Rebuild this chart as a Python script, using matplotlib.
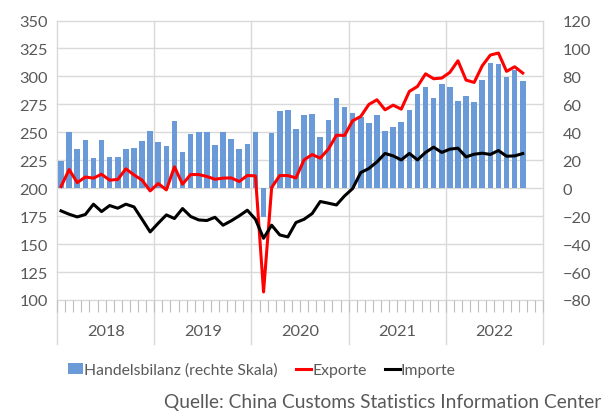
import numpy as np
import matplotlib
matplotlib.use("Agg")
from matplotlib import pyplot as plt
from matplotlib.patches import Patch
from matplotlib.lines import Line2D

# monthly values, Jan 2018 .. Oct 2022 (bn USD)
years = ["2018", "2019", "2020", "2021", "2022"]

balance = [
    19.6, 40.3, 27.9, 34.4, 21.7, 34.4, 22.2, 22.4, 27.7, 28.7, 34.1, 40.6,
    33.4, 29.9, 48.0, 26.0, 38.9, 39.9, 40.1, 31.0, 40.1, 34.9, 27.9, 31.5,
    40.3, -20.3, 39.6, 54.9, 56.1, 42.7, 52.5, 53.0, 36.3, 48.9, 64.5, 58.2,
    53.7, 51.3, 46.6, 52.5, 40.8, 43.7, 47.1, 56.1, 67.1, 72.3, 64.7, 74.7,
    72.3, 62.6, 66.1, 61.9, 77.4, 89.3, 89.0, 79.3, 84.7, 76.6,
]

exports = [
    201.5, 216.7, 205.0, 210.0, 209.0, 212.5, 207.2, 207.8, 217.3, 211.9, 207.2, 197.6,
    204.2, 198.5, 219.1, 203.6, 212.2, 212.2, 210.5, 208.0, 209.0, 209.2, 206.0, 211.4,
    211.0, 107.2, 200.6, 211.3, 211.3, 209.2, 225.3, 230.1, 226.9, 234.9, 247.4, 247.2,
    260.3, 264.2, 274.9, 279.1, 270.1, 274.3, 270.7, 286.6, 291.0, 302.3, 297.9, 298.5,
    303.6, 314.0, 296.7, 294.6, 309.5, 319.1, 320.9, 304.5, 308.6, 303.0,
]

imports = [
    179.7, 176.7, 174.3, 176.5, 185.7, 179.1, 184.5, 182.1, 185.7, 183.3, 172.2, 160.9,
    168.7, 176.1, 172.9, 181.8, 174.7, 171.6, 171.1, 174.0, 166.9, 170.8, 175.3, 180.3,
    172.2, 155.2, 166.9, 158.2, 156.4, 169.3, 172.2, 177.3, 188.1, 186.6, 185.0, 193.1,
    199.7, 214.0, 217.6, 223.5, 231.1, 228.9, 225.3, 231.1, 225.3, 232.0, 236.7, 232.0,
    234.9, 235.8, 228.0, 230.4, 231.3, 230.2, 233.7, 228.6, 228.9, 231.0,
]

BLUE = "#6a9bd8"
GRID = "#d9d9d9"
TXT = "#595959"
FS = 11.8

plt.rcParams["font.family"] = ["Lato", "DejaVu Sans"]

W, H = 603, 414
fig = plt.figure(figsize=(W / 100, H / 100), dpi=100)
ax = fig.add_axes([57 / W, 113 / H, 486 / W, 279.5 / H])
ax2 = ax.twinx()

x = np.arange(len(balance)) + 0.5
nslots = 12 * len(years)

# trade balance bars on the right scale, behind the lines
ax2.bar(x, balance, width=0.68, color=BLUE, zorder=2)
ax2.set_ylim(-80, 120)
ax2.set_yticks(range(-80, 121, 20))
ax2.grid(axis="y", color=GRID, lw=1.0)
ax2.set_axisbelow(True)
for gl in ax2.get_ygridlines():
    gl.set_clip_on(False)

ax.set_zorder(ax2.get_zorder() + 1)
ax.patch.set_visible(False)

ax.plot(x, exports, color="#ff0000", lw=2.2, solid_joinstyle="round")
ax.plot(x, imports, color="#000000", lw=2.2, solid_joinstyle="round")
ax.set_xlim(0, nslots)
ax.set_ylim(100, 350)
ax.set_yticks(range(100, 351, 25))

# month ticks and year separators
ax.set_xticks(np.arange(0, nslots + 1))
ax.set_xticklabels([])
ax.tick_params(axis="x", length=8.3, width=0.8, color="#bfbfbf")
for i in range(0, nslots + 1, 12):
    ax2.axvline(i, ymin=-44 / 279.5, ymax=1, clip_on=False, color=GRID, lw=1.0, zorder=1)
for k, yr in enumerate(years):
    ax.text(12 * k + 6, -31 / 279.5, yr, transform=ax.get_xaxis_transform(),
            ha="center", va="center", fontsize=FS, color=TXT)

ax.tick_params(axis="y", length=0, pad=6.5, labelsize=FS, labelcolor=TXT)
ax2.tick_params(axis="y", length=0, pad=14, labelsize=FS, labelcolor=TXT)
for a in (ax, ax2):
    for s in a.spines.values():
        s.set_visible(False)

handles = [
    Patch(facecolor=BLUE, edgecolor="none"),
    Line2D([], [], color="#ff0000", lw=2.2),
    Line2D([], [], color="#000000", lw=2.2),
]
labels = ["Handelsbilanz (rechte Skala)", "Exporte", "Importe"]
fig.legend(handles, labels, loc="center", bbox_to_anchor=(262 / W, 1 - 371 / H),
           ncol=3, frameon=False, handlelength=0.95, handletextpad=0.08,
           columnspacing=1.15, fontsize=11.3, labelcolor=TXT)

fig.text(601 / W, 1 - 403 / H, "Quelle: China Customs Statistics Information Center",
         ha="right", va="center", fontsize=13.8, color=TXT)

fig.savefig("out.png", dpi=100)
